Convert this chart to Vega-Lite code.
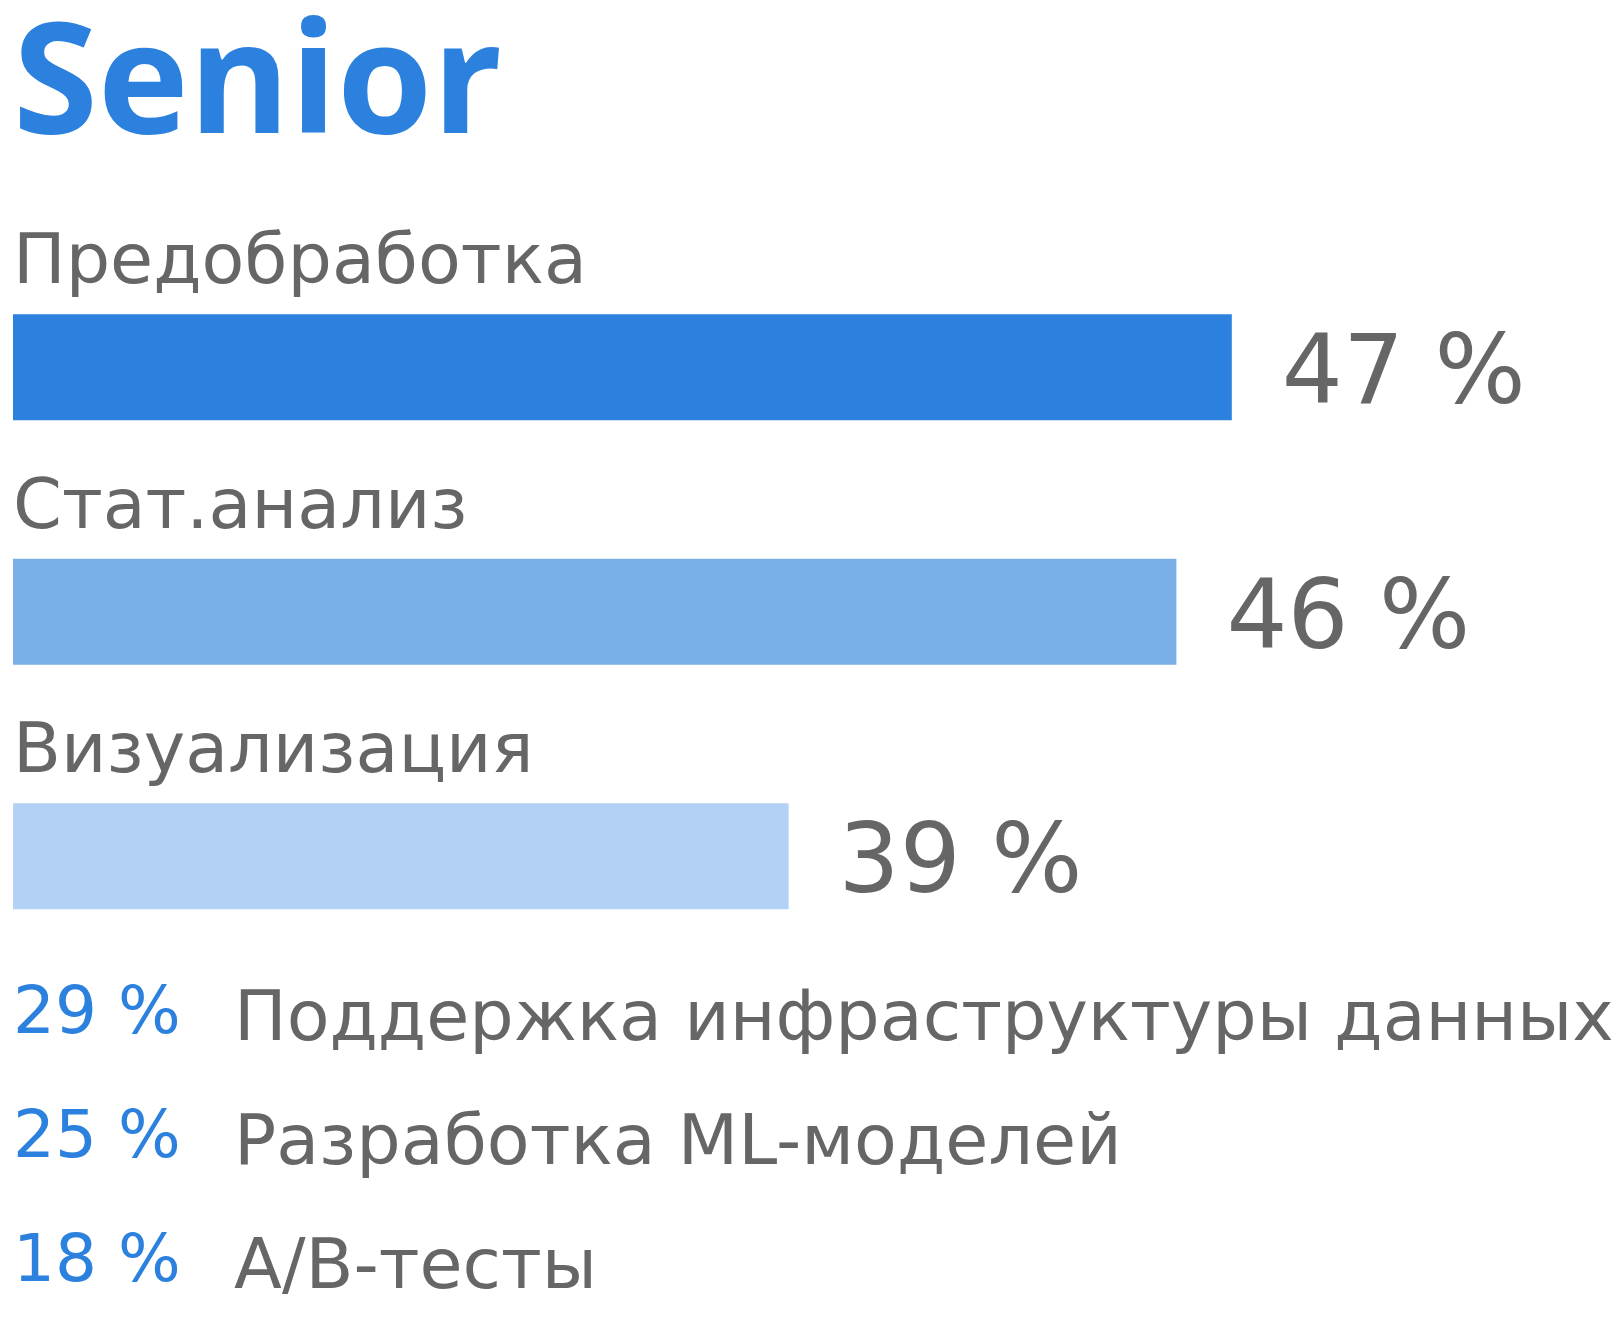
{
  "$schema": "https://vega.github.io/schema/vega-lite/v6.json",
  "background": "#ffffff",
  "padding": {"left": 13, "top": 10, "right": 0, "bottom": 8},
  "bounds": "flush",
  "spacing": 60.5,
  "title": {"text": "Senior", "anchor": "start", "font": "Open Sans", "fontWeight": 700, "fontSize": 154, "color": "#2B81DD", "offset": 62, "frame": "group"},
  "vconcat": [
    {
      "width": 1385,
      "height": {"step": 244.5},
      "data": {"values": [
        {"task": "Предобработка", "pct": 47, "label": "47 %"},
        {"task": "Стат.анализ", "pct": 46, "label": "46 %"},
        {"task": "Визуализация", "pct": 39, "label": "39 %"}
      ]},
      "encoding": {"y": {"field": "task", "type": "nominal", "sort": null, "axis": null, "scale": {"paddingInner": 0, "paddingOuter": 0}}},
      "layer": [
        {
          "mark": {"type": "bar", "height": 106},
          "encoding": {
            "x": {"field": "pct", "type": "quantitative", "scale": {"domain": [25, 50], "zero": false, "nice": false}, "axis": null},
            "x2": {"datum": 25},
            "color": {"field": "task", "type": "nominal", "sort": null, "scale": {"domain": ["Предобработка", "Стат.анализ", "Визуализация"], "range": ["#2B81DD", "#7AAFE8", "#B3D1F4"]}, "legend": null}
          }
        },
        {
          "mark": {"type": "text", "align": "left", "baseline": "alphabetic", "dy": -84, "font": "DejaVu Sans", "fontSize": 70, "color": "#666666"},
          "encoding": {"x": {"datum": 25, "type": "quantitative"}, "text": {"field": "task"}}
        },
        {
          "mark": {"type": "text", "align": "left", "baseline": "alphabetic", "dx": 50, "dy": 36, "font": "DejaVu Sans", "fontSize": 96, "color": "#666666"},
          "encoding": {"x": {"field": "pct", "type": "quantitative"}, "text": {"field": "label"}}
        }
      ]
    },
    {
      "width": 1385,
      "height": {"step": 124},
      "data": {"values": [
        {"task": "Поддержка инфраструктуры данных", "pct": 29, "label": "29 %"},
        {"task": "Разработка ML-моделей", "pct": 25, "label": "25 %"},
        {"task": "A/B-тесты", "pct": 18, "label": "18 %"}
      ]},
      "encoding": {"y": {"field": "task", "type": "nominal", "sort": null, "axis": null, "scale": {"type": "point", "padding": 0}}},
      "layer": [
        {
          "mark": {"type": "text", "align": "left", "baseline": "alphabetic", "dy": -7, "font": "DejaVu Sans", "fontSize": 66, "color": "#2B81DD"},
          "encoding": {"x": {"value": 0}, "text": {"field": "label"}}
        },
        {
          "mark": {"type": "text", "align": "left", "baseline": "alphabetic", "dx": 221, "font": "DejaVu Sans", "fontSize": 70, "color": "#666666"},
          "encoding": {"x": {"value": 0}, "text": {"field": "task"}}
        }
      ]
    }
  ],
  "config": {"view": {"stroke": null}}
}
